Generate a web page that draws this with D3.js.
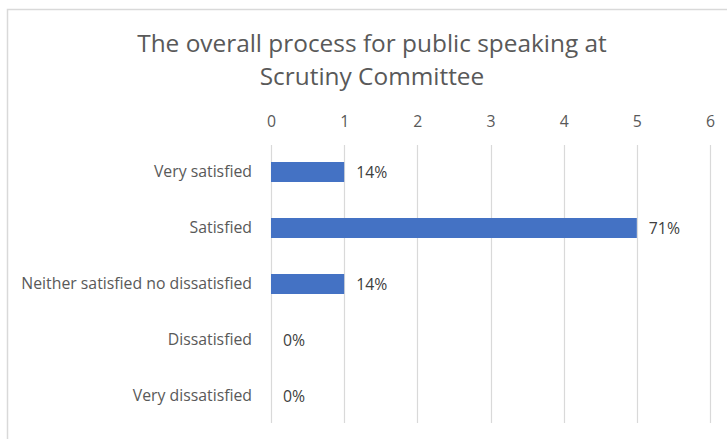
<!DOCTYPE html>
<html>
<head>
<meta charset="utf-8">
<script src="https://cdn.jsdelivr.net/npm/d3@7/dist/d3.min.js"></script>
<style>
  html, body { margin: 0; padding: 0; background: #ffffff; }
  svg { display: block; }
  text { font-family: "Open Sans", "Liberation Sans", sans-serif; }
</style>
</head>
<body>
<svg id="chart" width="727" height="439"></svg>
<script>
// Survey responses (number of respondents per answer)
const categories = [
  "Very satisfied",
  "Satisfied",
  "Neither satisfied no dissatisfied",
  "Dissatisfied",
  "Very dissatisfied"
];
const counts = [1, 5, 1, 0, 0];
const xTicks = [0, 1, 2, 3, 4, 5, 6];
const titleLines = ["The overall process for public speaking at", "Scrutiny Committee"];

const total = d3.sum(counts);
const pct = v => Math.round(v / total * 100) + "%";

const labelSize = 15.8;

const svg = d3.select("#chart");

// chart frame
svg.append("rect")
  .attr("x", 7.5).attr("y", 9.5)
  .attr("width", 740).attr("height", 440)
  .attr("fill", "#ffffff")
  .attr("stroke", "#d9d9d9")
  .attr("stroke-width", 1.5);

// title
svg.append("g")
  .selectAll("text")
  .data(titleLines)
  .join("text")
  .attr("x", 372)
  .attr("y", (d, i) => 52 + i * 33)
  .attr("text-anchor", "middle")
  .attr("font-size", 24.4)
  .attr("fill", "#595959")
  .text(d => d);

const x = d3.scaleLinear().domain([0, 6]).range([271, 710]);
const y = d3.scaleBand()
  .domain(categories)
  .range([144, 424])
  .paddingInner(0.643)
  .paddingOuter(0.3215);

// vertical gridlines
svg.append("g")
  .selectAll("line")
  .data(xTicks)
  .join("line")
  .attr("x1", d => Math.round(x(d)) + 0.5)
  .attr("x2", d => Math.round(x(d)) + 0.5)
  .attr("y1", 145)
  .attr("y2", 423)
  .attr("stroke", "#d9d9d9")
  .attr("stroke-width", 1.2);

// top value axis
const xAxis = d3.axisTop(x).tickValues(xTicks).tickFormat(d3.format("d")).tickSize(0).tickPadding(0);
const gx = svg.append("g").attr("transform", "translate(0,127)").call(xAxis);
gx.select(".domain").remove();
gx.selectAll("text")
  .attr("font-size", labelSize)
  .attr("font-family", "'Open Sans', sans-serif")
  .attr("fill", "#595959");

// category axis
const yAxis = d3.axisLeft(y).tickSize(0).tickPadding(0);
const gy = svg.append("g").attr("transform", "translate(252,0)").call(yAxis);
gy.select(".domain").remove();
gy.selectAll("text")
  .attr("font-size", labelSize)
  .attr("font-family", "'Open Sans', sans-serif")
  .attr("fill", "#595959");

// bars
svg.append("g")
  .selectAll("rect")
  .data(categories)
  .join("rect")
  .attr("x", x(0))
  .attr("y", d => y(d))
  .attr("width", (d, i) => x(counts[i]) - x(0))
  .attr("height", y.bandwidth())
  .attr("fill", "#4472c4");

// value labels
svg.append("g")
  .selectAll("text")
  .data(categories)
  .join("text")
  .attr("x", (d, i) => x(counts[i]) + 12)
  .attr("y", d => y(d) + y.bandwidth() / 2)
  .attr("dy", "0.35em")
  .attr("font-size", labelSize)
  .attr("fill", "#404040")
  .text((d, i) => pct(counts[i]));
</script>
</body>
</html>
